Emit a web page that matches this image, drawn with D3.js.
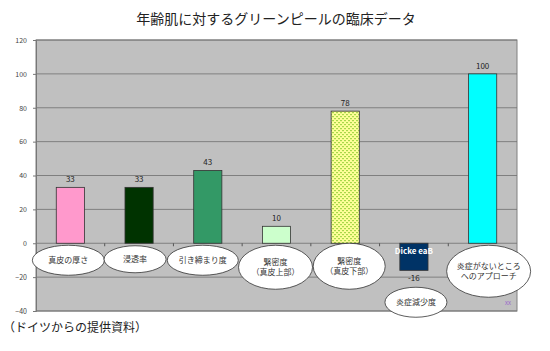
<!DOCTYPE html>
<head>
    <meta charset="utf-8">
    <title>年齢肌に対するグリーンピールの臨床データ</title>
    <style>
        body { margin: 0; background: #fff; }
        svg text { font-family: "Noto Sans CJK JP", "DejaVu Sans", sans-serif; }
    </style>
</head>
<body>

<svg width="550" height="351"></svg>

<script src="https://d3js.org/d3.v7.min.js"></script>

<script>

// data
var categories = ['真皮の厚さ', '浸透率', '引き締まり度', '緊密度(真皮上部)', '緊密度(真皮下部)', '炎症減少度', '炎症がないところへのアプローチ'];
var values = [33, 33, 43, 10, 78, -16, 100];
var barColors = ['#ff99cc', '#003300', '#339966', '#ccffcc', 'url(#dots)', '#003366', '#00ffff'];
var bubbleLines = [['真皮の厚さ'], ['浸透率'], ['引き締まり度'], ['緊密度', '（真皮上部）'],
                   ['緊密度', '（真皮下部）'], ['炎症減少度'], ['炎症がないところ', 'へのアプローチ']];
var yTicks = [-40, -20, 0, 20, 40, 60, 80, 100, 120];

var svg = d3.select('svg'),
    margin = {top: 40, right: 33, bottom: 40, left: 36},
    width = 550 - margin.left - margin.right,
    height = 351 - margin.top - margin.bottom;

// pattern for the yellow dotted bar
var pat = svg.append('defs').append('pattern')
    .attr('id', 'dots')
    .attr('width', 4).attr('height', 4)
    .attr('patternUnits', 'userSpaceOnUse');
pat.append('rect').attr('width', 4).attr('height', 4).attr('fill', '#ffff99');
pat.append('rect').attr('x', 0).attr('y', 0).attr('width', 2).attr('height', 1.2).attr('fill', '#a8d84a');
pat.append('rect').attr('x', 2).attr('y', 2).attr('width', 2).attr('height', 1.2).attr('fill', '#a8d84a');

svg.append('text')
    .attr('x', 276).attr('y', 24)
    .attr('text-anchor', 'middle')
    .attr('font-size', 14)
    .attr('fill', '#222')
    .text('年齢肌に対するグリーンピールの臨床データ');

var g = svg.append('g').attr('transform', `translate(${margin.left},${margin.top})`);

var x = d3.scaleBand()
    .domain(categories)
    .range([0, width])
    .paddingInner(0.59)
    .paddingOuter(0.295);

var y = d3.scaleLinear()
    .domain([-40, 120])
    .range([height, 0]);

// plot area
g.append('rect')
    .attr('width', width).attr('height', height)
    .attr('fill', '#c0c0c0')
    .attr('stroke', '#808080');

// gridlines
g.selectAll('.grid')
    .data(yTicks)
    .enter().append('line')
        .attr('x1', 0).attr('x2', width)
        .attr('y1', d => y(d)).attr('y2', d => y(d))
        .attr('stroke', '#6e6e6e')
        .attr('stroke-width', 0.8);

// y axis
var yAxis = g.append('g')
    .call(d3.axisLeft(y).tickValues(yTicks).tickSize(3).tickPadding(6));
yAxis.select('.domain').attr('stroke', '#777');
yAxis.selectAll('line').attr('stroke', '#777');
yAxis.selectAll('text').attr('font-size', 7).attr('fill', '#444')
    .attr('font-family', '"Liberation Sans", Arial, sans-serif');

// category ticks on the zero line
var step = x.step();
g.selectAll('.xtick')
    .data(d3.range(1, categories.length))
    .enter().append('line')
        .attr('x1', d => d * step).attr('x2', d => d * step)
        .attr('y1', y(0)).attr('y2', y(0) + 3)
        .attr('stroke', '#555');

// bars
g.selectAll('.bar')
    .data(values)
    .enter().append('rect')
        .attr('x', (d, i) => x(categories[i]))
        .attr('y', d => y(Math.max(0, d)))
        .attr('width', x.bandwidth())
        .attr('height', d => Math.abs(y(d) - y(0)))
        .attr('fill', (d, i) => barColors[i])
        .attr('stroke', '#333')
        .attr('stroke-width', 0.8);

// value labels
g.selectAll('.val')
    .data(values)
    .enter().append('text')
        .attr('x', (d, i) => x(categories[i]) + x.bandwidth() / 2)
        .attr('y', d => d >= 0 ? y(d) - 5 : y(d) + 11)
        .attr('text-anchor', 'middle')
        .attr('font-size', 8)
        .attr('fill', '#222')
        .attr('font-family', '"Liberation Sans", Arial, sans-serif')
        .text(d => d);

// stray label inside the negative bar
g.append('text')
    .attr('x', x(categories[5]) + x.bandwidth() / 2)
    .attr('y', y(0) + 11)
    .attr('text-anchor', 'middle')
    .attr('font-size', 8)
    .attr('font-weight', 'bold')
    .attr('fill', '#fff')
    .attr('font-family', '"Liberation Sans", Arial, sans-serif')
    .text('Dicke eaB');

// ellipse call-outs under the axis (offsets relative to the zero line)
var bubbleShape = [
    {dx: -2, dy: 17, rx: 36, ry: 15},
    {dx: -4, dy: 16, rx: 31, ry: 13.5},
    {dx: -5, dy: 17, rx: 35.5, ry: 15},
    {dx: -1, dy: 24, rx: 37, ry: 22},
    {dx: 4, dy: 23, rx: 36, ry: 23},
    {dx: 2, dy: 59, rx: 31, ry: 15},
    {dx: 6, dy: 28, rx: 42, ry: 26}
];

var bubble = g.selectAll('.bubble')
    .data(bubbleLines)
    .enter().append('g')
        .attr('transform', (d, i) => `translate(${x(categories[i]) + x.bandwidth() / 2 + bubbleShape[i].dx},${y(0) + bubbleShape[i].dy})`);

bubble.append('ellipse')
    .attr('rx', (d, i) => bubbleShape[i].rx)
    .attr('ry', (d, i) => bubbleShape[i].ry)
    .attr('fill', '#fff')
    .attr('stroke', '#333')
    .attr('stroke-width', 0.8);

bubble.append('text')
    .attr('text-anchor', 'middle')
    .attr('font-size', 8)
    .attr('fill', '#333')
    .selectAll('tspan')
    .data(d => d)
    .enter().append('tspan')
        .attr('x', 0)
        .attr('y', (d, i, n) => 3 + (i - (n.length - 1) / 2) * 10)
        .text(d => d);

// small purple mark at bottom right
g.append('text')
    .attr('x', width - 9).attr('y', height - 6)
    .attr('text-anchor', 'middle')
    .attr('font-size', 6)
    .attr('fill', '#9966cc')
    .text('xx');

svg.append('text')
    .attr('x', 3).attr('y', 332)
    .attr('font-size', 12)
    .attr('fill', '#222')
    .text('（ドイツからの提供資料）');

</script>

</body>
